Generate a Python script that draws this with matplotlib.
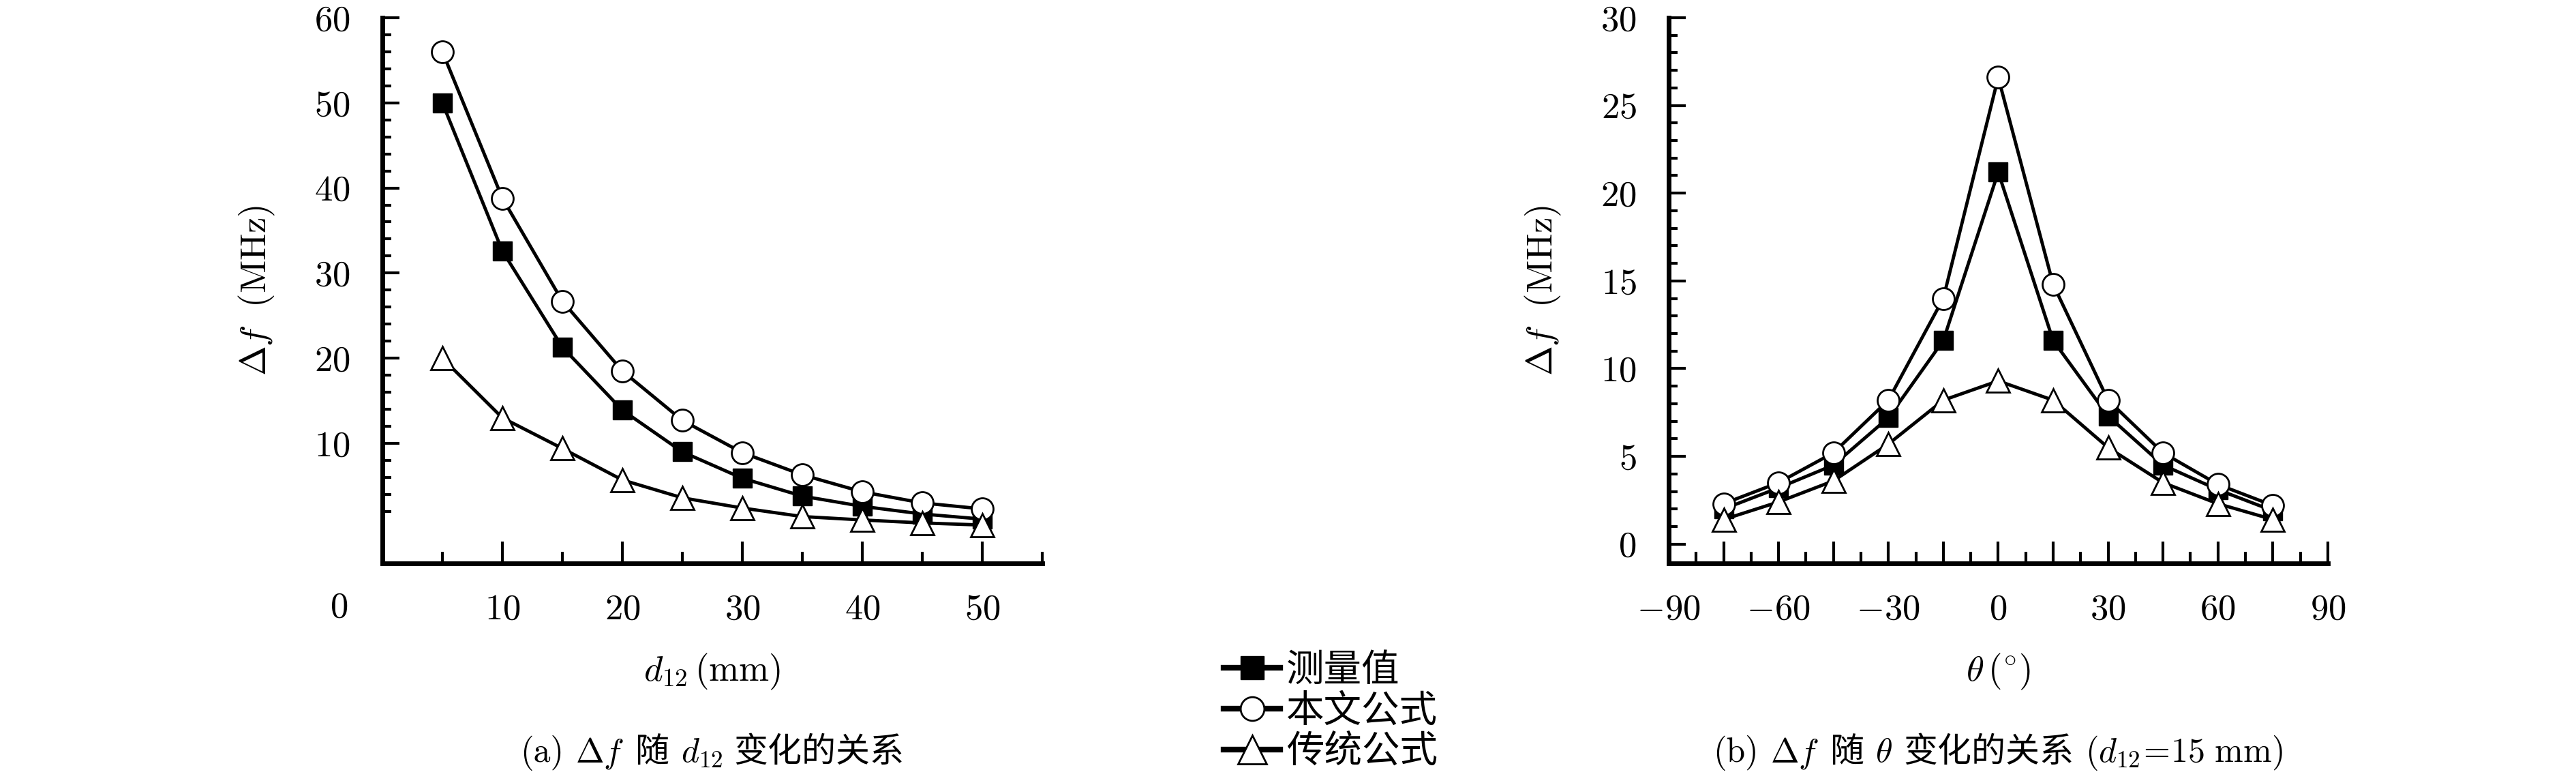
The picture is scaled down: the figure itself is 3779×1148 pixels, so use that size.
import numpy as np
import matplotlib
matplotlib.use('Agg')
from matplotlib import pyplot as plt
from matplotlib.lines import Line2D
from matplotlib.offsetbox import TextArea, HPacker, AnchoredOffsetbox

plt.rcParams['mathtext.fontset'] = 'cm'
plt.rcParams['font.family'] = ['cmr10', 'Noto Sans CJK SC', 'DejaVu Sans']
plt.rcParams['axes.unicode_minus'] = False

# ---- data ----
d12 = [5, 10, 15, 20, 25, 30, 35, 40, 45, 50]
a_measured = [50.0, 32.6, 21.3, 13.9, 9.0, 5.9, 3.8, 2.6, 1.7, 1.1]
a_this_work = [56.0, 38.8, 26.7, 18.5, 12.7, 8.9, 6.3, 4.3, 3.0, 2.3]
a_traditional = [20.0, 13.0, 9.4, 5.7, 3.6, 2.4, 1.4, 1.0, 0.65, 0.4]

theta = [-75, -60, -45, -30, -15, 0, 15, 30, 45, 60, 75]
b_measured = [2.0, 3.2, 4.5, 7.2, 11.6, 21.2, 11.6, 7.3, 4.5, 3.1, 1.9]
b_this_work = [2.3, 3.5, 5.2, 8.2, 14.0, 26.6, 14.8, 8.2, 5.2, 3.4, 2.2]
b_traditional = [1.4, 2.4, 3.6, 5.7, 8.2, 9.3, 8.2, 5.5, 3.5, 2.3, 1.4]

legend_labels = ['测量值', '本文公式', '传统公式']
a_xticks = [10, 20, 30, 40, 50]
a_yticks = [10, 20, 30, 40, 50, 60]
b_xticks = [-90, -60, -30, 0, 30, 60, 90]
b_yticks = [0, 5, 10, 15, 20, 25, 30]

# caption pieces: math / latin parts and CJK parts kept apart so each gets its own font
caption_a = ['(a)', r'$\mathit{\Delta f}$', '随', r'$d_{12}$', '变化的关系']
caption_b = ['(b)', r'$\mathit{\Delta f}$', '随', r'$\theta$', '变化的关系', r'$(d_{12}\!=\!15\ \mathrm{mm})$']

FS = 38
LW = 3.5


def style_axes(ax):
    for s in ['top', 'right']:
        ax.spines[s].set_visible(False)
    for s in ['left', 'bottom']:
        ax.spines[s].set_linewidth(5)
    ax.tick_params(axis='y', which='major', direction='in', length=18, width=3, pad=34, labelsize=FS)
    ax.tick_params(axis='y', which='minor', direction='in', length=9, width=3)
    ax.tick_params(axis='x', which='major', direction='in', length=23, width=3, pad=32, labelsize=FS)
    ax.tick_params(axis='x', which='minor', direction='in', length=12, width=3)


def draw_series(ax, x, meas, work, trad):
    ax.plot(x, meas, color='black', lw=LW, marker='s', ms=20, mfc='black', mec='black', zorder=3)
    ax.plot(x, work, color='black', lw=LW, marker='o', ms=23, mfc='white', mec='black', mew=2, zorder=4)
    ax.plot(x, trad, color='black', lw=LW, marker='^', ms=24, mfc='white', mec='black', mew=2, zorder=5)


def add_caption(fig, ax, pieces, y):
    boxes = [TextArea(p, textprops=dict(fontsize=36)) for p in pieces]
    pack = HPacker(children=boxes, align='baseline', pad=0, sep=12)
    box = ax.get_position()
    anchored = AnchoredOffsetbox(loc='center', child=pack, pad=0, borderpad=0, frameon=False,
                                 bbox_to_anchor=((box.x0 + box.x1) / 2, y),
                                 bbox_transform=fig.transFigure)
    fig.add_artist(anchored)


def main():
    fig = plt.figure(figsize=(37.8, 11.48), dpi=100)

    # ---- (a) ----
    ax1 = fig.add_axes([0.1484, 0.2805, 0.2561, 0.6969])
    draw_series(ax1, d12, a_measured, a_this_work, a_traditional)
    ax1.set_xlim(0, 55)
    ax1.set_ylim(-4.1, 60)
    ax1.set_xticks(a_xticks)
    ax1.set_xticklabels([r'$%d$' % v for v in a_xticks])
    ax1.set_xticks(np.arange(5, 56, 10), minor=True)
    ax1.set_yticks(a_yticks)
    ax1.set_yticklabels([r'$%d$' % v for v in a_yticks])
    ax1.set_yticks([v for v in range(0, 60, 2) if v % 10], minor=True)
    style_axes(ax1)
    ax1.annotate(r'$0$', xy=(0, 0), xycoords='axes fraction', xytext=(-46, -47),
                 textcoords='offset points', ha='center', va='center', fontsize=FS)
    ax1.set_ylabel(r'$\Delta f\ \ (\mathrm{MHz})$', fontsize=FS, labelpad=40)
    ax1.set_xlabel(r'$d_{12}\,(\mathrm{mm})$', fontsize=FS, labelpad=28)

    # ---- (b) ----
    ax2 = fig.add_axes([0.6476, 0.2805, 0.2558, 0.6969])
    draw_series(ax2, theta, b_measured, b_this_work, b_traditional)
    ax2.set_xlim(-90, 90)
    ax2.set_ylim(-1.1, 30)
    ax2.set_xticks(np.arange(-90, 91, 15))
    ax2.set_xticklabels([(r'$%d$' % v if v in b_xticks else '') for v in np.arange(-90, 91, 15)])
    ax2.set_xticks(np.arange(-82.5, 90, 15), minor=True)
    ax2.set_yticks(b_yticks)
    ax2.set_yticklabels([r'$%d$' % v for v in b_yticks])
    ax2.set_yticks([v for v in range(0, 30) if v % 5], minor=True)
    style_axes(ax2)
    ax2.set_ylabel(r'$\Delta f\ \ (\mathrm{MHz})$', fontsize=FS, labelpad=40)
    ax2.set_xlabel(r'$\theta\,(^{\circ})$', fontsize=FS, labelpad=28)

    # ---- captions ----
    add_caption(fig, ax1, caption_a, 1 - 1104 / 1148)
    add_caption(fig, ax2, caption_b, 1 - 1104 / 1148)

    # ---- legend ----
    handles = [
        Line2D([], [], color='black', lw=6, marker='s', ms=24, mfc='black', mec='black'),
        Line2D([], [], color='black', lw=6, marker='o', ms=25, mfc='white', mec='black', mew=2),
        Line2D([], [], color='black', lw=6, marker='^', ms=30, mfc='white', mec='black', mew=2),
    ]
    fig.legend(handles, legend_labels, loc='center left', bbox_to_anchor=(1795 / 3780, 1 - 1044 / 1148),
               frameon=False, fontsize=40, handlelength=1.5, handletextpad=0.15, labelspacing=0.15,
               borderpad=0, borderaxespad=0)

    plt.savefig('out.png', dpi=100)


if __name__ == '__main__':
    main()
